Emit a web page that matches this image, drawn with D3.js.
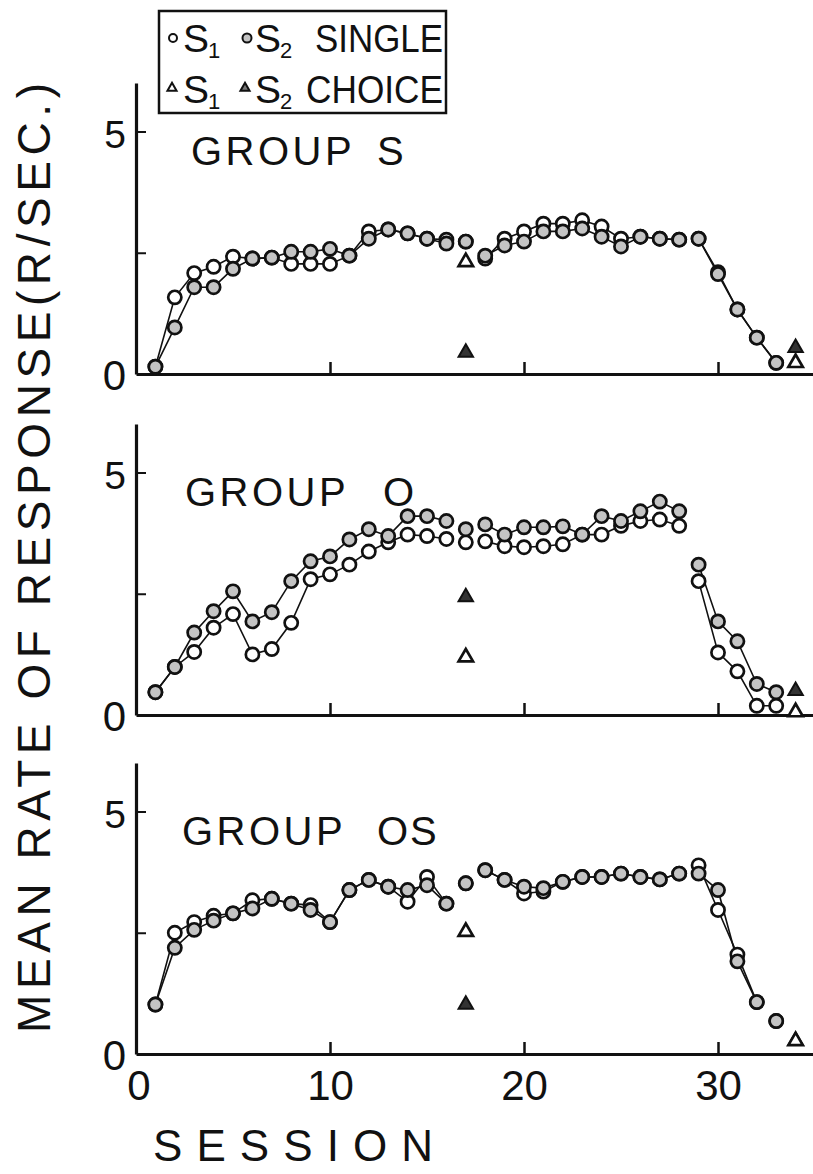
<!DOCTYPE html>
<html><head><meta charset="utf-8">
<script src="https://cdn.jsdelivr.net/npm/d3@7"></script>
<style>
html,body{margin:0;padding:0;background:#fff;}
svg{display:block;}
text{font-family:"Liberation Sans", Arial, sans-serif; fill:#111;}
</style></head><body>
<svg id="c" width="813" height="1174"></svg>
<script>
// ---------- data ----------
const sessions = d3.range(1, 34);          // sessions 1..33
const choiceSessions = [17, 34];
const groupWord = "GROUP";
const groupSuffix = ["S", "O", "OS"];
const xTickValues = [0, 10, 20, 30];
const xTickLabels = ["0", "10", "20", "30"];
const yTickValues = [0, 2.5, 5];
const yTickLabels = ["0", "", "5"];
const legendRow1 = ["S", "1", "S", "2", "SINGLE"];
const legendRow2 = ["S", "1", "S", "2", "CHOICE"];
const yTitle = "MEAN RATE OF RESPONSE(R/SEC.)";
const xTitle = "SESSION";

const groupS_S1 = [0.15,1.58,2.08,2.21,2.42,2.38,2.40,2.27,2.27,2.27,2.44,2.94,2.98,2.90,2.79,2.77,2.73,2.38,2.79,2.94,3.10,3.10,3.17,3.04,2.79,2.83,2.79,2.77,2.79,2.10,1.33,0.75,0.23];
const groupS_S2 = [0.15,0.96,1.79,1.79,2.17,2.38,2.40,2.52,2.52,2.58,2.44,2.79,2.98,2.90,2.79,2.69,2.73,2.44,2.65,2.73,2.94,2.94,3.00,2.83,2.63,2.83,2.79,2.77,2.79,2.06,1.33,0.75,0.23];
const groupS_C1 = [2.31, 0.23];
const groupS_C2 = [0.44, 0.54];

const groupO_S1 = [0.47,0.99,1.30,1.80,2.08,1.25,1.36,1.90,2.80,2.90,3.10,3.37,3.56,3.72,3.69,3.63,3.56,3.58,3.48,3.46,3.48,3.52,3.72,3.72,3.90,4.00,4.03,3.90,2.76,1.29,0.90,0.19,0.19];
const groupO_S2 = [0.47,0.99,1.70,2.14,2.55,1.93,2.12,2.76,3.17,3.27,3.62,3.83,3.69,4.10,4.10,4.00,3.83,3.93,3.72,3.87,3.87,3.89,3.72,4.10,4.00,4.20,4.40,4.20,3.10,1.93,1.52,0.64,0.47];
const groupO_C1 = [1.19, 0.06];
const groupO_C2 = [2.43, 0.50];

const groupOS_S1 = [1.02,2.50,2.72,2.85,2.90,3.17,3.20,3.10,3.07,2.72,3.38,3.59,3.45,3.14,3.65,3.10,3.52,3.79,3.59,3.31,3.35,3.55,3.65,3.65,3.72,3.65,3.60,3.72,3.89,2.97,2.05,1.07,0.68];
const groupOS_S2 = [1.02,2.19,2.56,2.75,2.90,3.00,3.20,3.10,2.97,2.72,3.38,3.59,3.45,3.38,3.48,3.10,3.52,3.79,3.59,3.45,3.42,3.55,3.65,3.65,3.72,3.65,3.60,3.72,3.72,3.38,1.91,1.07,0.68];
const groupOS_C1 = [2.52, 0.27];
const groupOS_C2 = [1.02, 0.27];

// connected runs of sessions
const segmentsA = [[1,16],[17,17],[18,28],[29,33]];
const segmentsB = [[1,16],[17,17],[18,28],[29,32],[33,33]];

// ---------- build ----------
const panels = [
  {suffix: groupSuffix[0], s1: groupS_S1, s2: groupS_S2, c1: groupS_C1, c2: groupS_C2, segs: segmentsA},
  {suffix: groupSuffix[1], s1: groupO_S1, s2: groupO_S2, c1: groupO_C1, c2: groupO_C2, segs: segmentsA},
  {suffix: groupSuffix[2], s1: groupOS_S1, s2: groupOS_S2, c1: groupOS_C1, c2: groupOS_C2, segs: segmentsB}
];
const zeroY = [374, 715, 1054];
const unitPx = 48.5;
const titleX = [191, 185, 182];
const suffixX = [377, 383, 377];

const svg = d3.select("#c");
const x = d3.scaleLinear().domain([0, 35]).range([136, 815]);

const triSym = d3.symbol().type(d3.symbolTriangle).size(90);
const triSmall = d3.symbol().type(d3.symbolTriangle).size(36);

panels.forEach((p, pi) => {
  const y0 = zeroY[pi];
  const y = d3.scaleLinear().domain([0, 6]).range([y0, y0 - 6 * unitPx]);
  const g = svg.append("g");

  // x axis
  const xa = g.append("g").attr("transform", `translate(0,${y0})`)
    .call(d3.axisBottom(x).tickValues([10, 20, 30]).tickSizeInner(-12).tickSizeOuter(0).tickFormat(""));
  xa.select(".domain").attr("stroke", "#111").attr("stroke-width", 3.2);
  xa.selectAll(".tick line").attr("stroke", "#111").attr("stroke-width", 2.5);

  // y axis
  const ya = g.append("g").attr("transform", `translate(${x(0)},0)`)
    .call(d3.axisLeft(y).tickValues(yTickValues).tickSizeInner(-10).tickSizeOuter(0).tickPadding(9)
      .tickFormat((d, i) => yTickLabels[i]));
  ya.select(".domain").attr("stroke", "#111").attr("stroke-width", 3.2);
  ya.selectAll(".tick line").attr("stroke", "#111").attr("stroke-width", 2)
    .filter(d => d === 0).remove();
  ya.selectAll(".tick text")
    .attr("font-family", '"Liberation Sans", Arial, sans-serif')
    .attr("fill", "#111")
    .attr("font-size", d => d === 0 ? 42 : 39)
    .attr("dy", d => d === 0 ? "0.36em" : "0.40em")
    .attr("x", -10);

  // group title
  const t = g.append("text").attr("y", y(5) + 33).attr("font-size", 40);
  t.append("tspan").attr("x", titleX[pi]).attr("letter-spacing", 3.5).text(groupWord + " ");
  t.append("tspan").attr("x", suffixX[pi]).attr("letter-spacing", 2).text(p.suffix);

  const line = d3.line().x(d => x(d.s)).y(d => y(d.v));
  const series = [
    {vals: p.s1, fill: "#fff"},
    {vals: p.s2, fill: "#c4c4c4"}
  ];
  // lines
  series.forEach(sr => {
    p.segs.forEach(([a, b]) => {
      if (b > a) {
        const pts = sessions.filter(s => s >= a && s <= b).map(s => ({s, v: sr.vals[s - 1]}));
        g.append("path").attr("d", line(pts)).attr("fill", "none")
          .attr("stroke", "#111").attr("stroke-width", 1.6);
      }
    });
  });
  // circles
  series.forEach(sr => {
    g.append("g").selectAll("circle")
      .data(sessions.map(s => ({s, v: sr.vals[s - 1]})))
      .join("circle")
      .attr("cx", d => x(d.s)).attr("cy", d => y(d.v)).attr("r", 6.6)
      .attr("fill", sr.fill).attr("stroke", "#111").attr("stroke-width", 2.7);
  });
  // choice triangles
  g.append("g").selectAll("path")
    .data(choiceSessions.map((s, i) => ({s, v: p.c2[i]})))
    .join("path")
    .attr("transform", d => `translate(${x(d.s)},${y(d.v)})`)
    .attr("d", triSym).attr("fill", "#333").attr("stroke", "#111").attr("stroke-width", 2);
  g.append("g").selectAll("path")
    .data(choiceSessions.map((s, i) => ({s, v: p.c1[i]})))
    .join("path")
    .attr("transform", d => `translate(${x(d.s)},${y(d.v)})`)
    .attr("d", triSym).attr("fill", "#fff").attr("stroke", "#111").attr("stroke-width", 2.7);

  // x tick labels for bottom panel
  if (pi === 2) {
    const xl = g.append("g").attr("transform", `translate(0,${y0})`)
      .call(d3.axisBottom(x).tickValues(xTickValues).tickSize(0).tickPadding(16)
        .tickFormat((d, i) => xTickLabels[i]));
    xl.select(".domain").remove();
    xl.selectAll(".tick text")
      .attr("font-family", '"Liberation Sans", Arial, sans-serif')
      .attr("fill", "#111").attr("font-size", 42);
    xl.selectAll(".tick").filter(d => d === 0).attr("transform", `translate(${x(0) + 3},0)`);
  }
});

// axis titles
svg.append("text").attr("transform", "translate(50,1033) rotate(-90)")
  .attr("font-size", 46).attr("textLength", 950).attr("lengthAdjust", "spacing")
  .text(yTitle);
svg.append("text").attr("x", 153).attr("y", 1161)
  .attr("font-size", 44).attr("textLength", 280).attr("lengthAdjust", "spacing")
  .text(xTitle);

// legend
const lg = svg.append("g");
lg.append("rect").attr("x", 159).attr("y", 11).attr("width", 287).attr("height", 102)
  .attr("fill", "#fff").attr("stroke", "#111").attr("stroke-width", 2.5);
lg.append("circle").attr("cx", 173).attr("cy", 38).attr("r", 4)
  .attr("fill", "#fff").attr("stroke", "#111").attr("stroke-width", 2);
lg.append("circle").attr("cx", 247).attr("cy", 38).attr("r", 4.5)
  .attr("fill", "#c4c4c4").attr("stroke", "#111").attr("stroke-width", 2);
lg.append("path").attr("transform", "translate(172,88)").attr("d", triSmall)
  .attr("fill", "#fff").attr("stroke", "#111").attr("stroke-width", 2);
lg.append("path").attr("transform", "translate(245,88)").attr("d", triSmall)
  .attr("fill", "#777").attr("stroke", "#111").attr("stroke-width", 2);

function legendRow(labels, base, lastX, lastLen) {
  lg.append("text").attr("x", 183).attr("y", base).attr("font-size", 39).text(labels[0]);
  lg.append("text").attr("x", 208).attr("y", base + 6).attr("font-size", 22).text(labels[1]);
  lg.append("text").attr("x", 255).attr("y", base).attr("font-size", 39).text(labels[2]);
  lg.append("text").attr("x", 280).attr("y", base + 6).attr("font-size", 22).text(labels[3]);
  lg.append("text").attr("x", lastX).attr("y", base).attr("font-size", 38)
    .attr("textLength", lastLen).attr("lengthAdjust", "spacingAndGlyphs").text(labels[4]);
}
legendRow(legendRow1, 52, 315, 128);
legendRow(legendRow2, 103, 306, 137);
</script>
</body></html>
